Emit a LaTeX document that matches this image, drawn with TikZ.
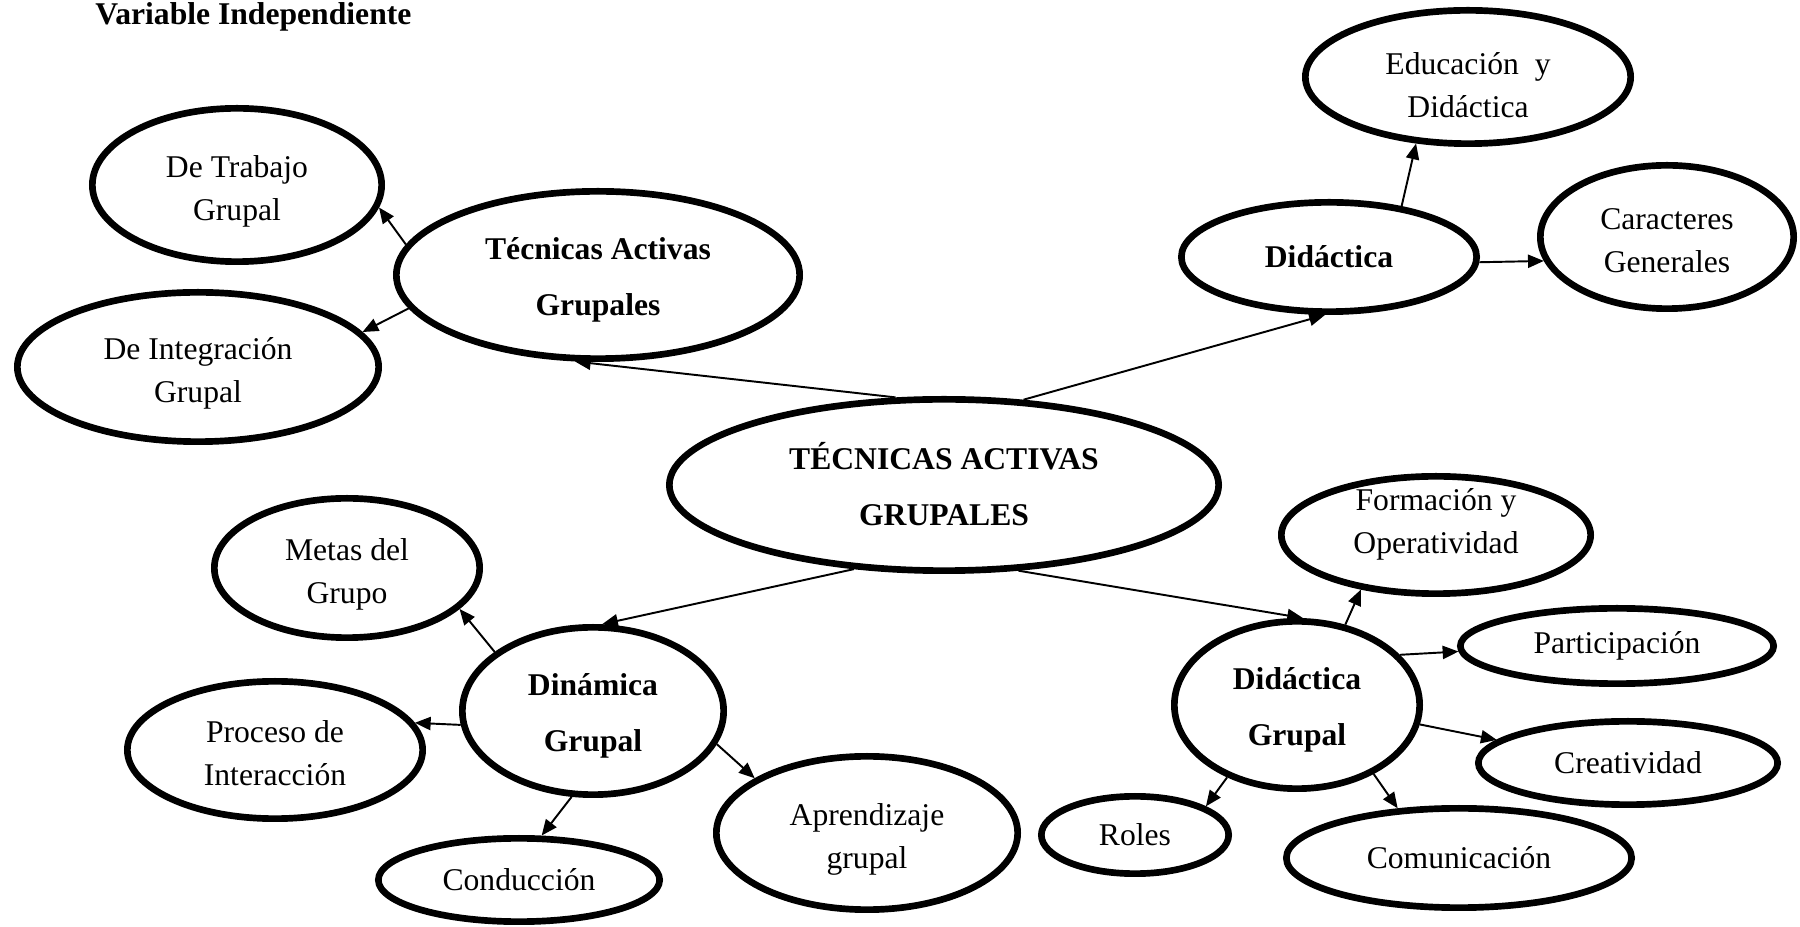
\documentclass[tikz,border=0pt]{standalone}
\usepackage{fontspec}
\setmainfont{Liberation Serif}
\usetikzlibrary{shapes.geometric,arrows.meta}

\begin{document}
\begin{tikzpicture}[x=0.2mm, y=-0.2mm,
    bubble/.style={ellipse, draw, line width=3.8pt, inner sep=0pt, align=center,
        font=\fontsize{18}{24.5}\selectfont},
    twolines/.style={bubble, text height=42pt, text depth=1.4pt},
    boldbubble/.style={bubble, font=\fontsize{18}{31.5}\selectfont\bfseries,
        text height=47pt, text depth=1.4pt},
    dims/.style 2 args={minimum width={#1*0.4mm-3.8pt}, minimum height={#2*0.4mm-3.8pt}},
    link/.style={-{Triangle[length=9pt,width=7.5pt]}, line width=1.1pt}]

    \useasboundingbox (0,0) rectangle (1800,927);

    \node[anchor=west, inner sep=0pt, font=\fontsize{18}{24}\selectfont\bfseries] (title) at (95,17) {Variable Independiente};

    % Central concept
    \node[boldbubble, dims={278}{89}] (central) at (944,485) {TÉCNICAS ACTIVAS\\GRUPALES};

    % Upper left branch
    \node[boldbubble, dims={205}{87}] (tag) at (598,275) {Técnicas Activas\\Grupales};
    \node[twolines, dims={148}{80}] (dtg) at (237,185) {De Trabajo\\Grupal};
    \node[twolines, dims={184}{78}] (dig) at (198,367) {De Integración\\Grupal};

    % Upper right branch
    \node[bubble, dims={151}{58}, font=\fontsize{18}{24.5}\selectfont\bfseries] (did) at (1329,257) {Didáctica};
    \node[twolines, dims={166}{70}, text height=48pt] (edu) at (1468,77) {Educación~ y\\Didáctica};
    \node[twolines, dims={130}{75}] (car) at (1667,237) {Caracteres\\Generales};

    % Lower left branch
    \node[boldbubble, dims={134}{87}] (din) at (593,711) {Dinámica\\Grupal};
    \node[twolines, dims={136}{73}] (metas) at (347,568) {Metas del\\Grupo};
    \node[twolines, dims={151}{72}] (proc) at (275,750) {Proceso de\\Interacción};
    \node[bubble, dims={144}{45}] (cond) at (519,880) {Conducción};
    \node[twolines, dims={154}{80}] (apr) at (867,833) {Aprendizaje\\grupal};

    % Lower right branch
    \node[boldbubble, dims={126}{87}] (dgr) at (1297,705) {Didáctica\\Grupal};
    \node[twolines, dims={158}{62}, text height=22pt] (form) at (1436,535) {Formación y\\Operatividad};
    \node[bubble, dims={160}{41}] (part) at (1617,646) {Participación};
    \node[bubble, dims={153}{45}] (crea) at (1628,763) {Creatividad};
    \node[bubble, dims={97}{42}] (roles) at (1135,835) {Roles};
    \node[bubble, dims={176}{53}] (com) at (1459,858) {Comunicación};

    % Connectors from the centre
    \draw[link] (central.119) -- (tag.255);
    \draw[link] (central.47) -- (did.266);
    \draw[link] (central.223) -- (din.84);
    \draw[link] (central.311) -- (dgr.86);

    \draw[link] (tag.171) -- (dtg.351);
    \draw[link] (tag.190) -- (dig.12);

    \draw[link] (did.35) -- (edu.232);
    \draw[link] (did.-2) -- (car.191);

    \draw[link] (din.149) -- (metas.340);
    \draw[link] (din.186) -- (proc.11);
    \draw[link] (din.256) -- (cond.63);
    \draw[link] (din.345) -- (apr.154);

    \draw[link] (dgr.59) -- (form.216);
    \draw[link] (dgr.26) -- (part.182);
    \draw[link] (dgr.351) -- (crea.170);
    \draw[link] (dgr.226) -- (roles.22);
    \draw[link] (dgr.318) -- (com.141);
\end{tikzpicture}
\end{document}
